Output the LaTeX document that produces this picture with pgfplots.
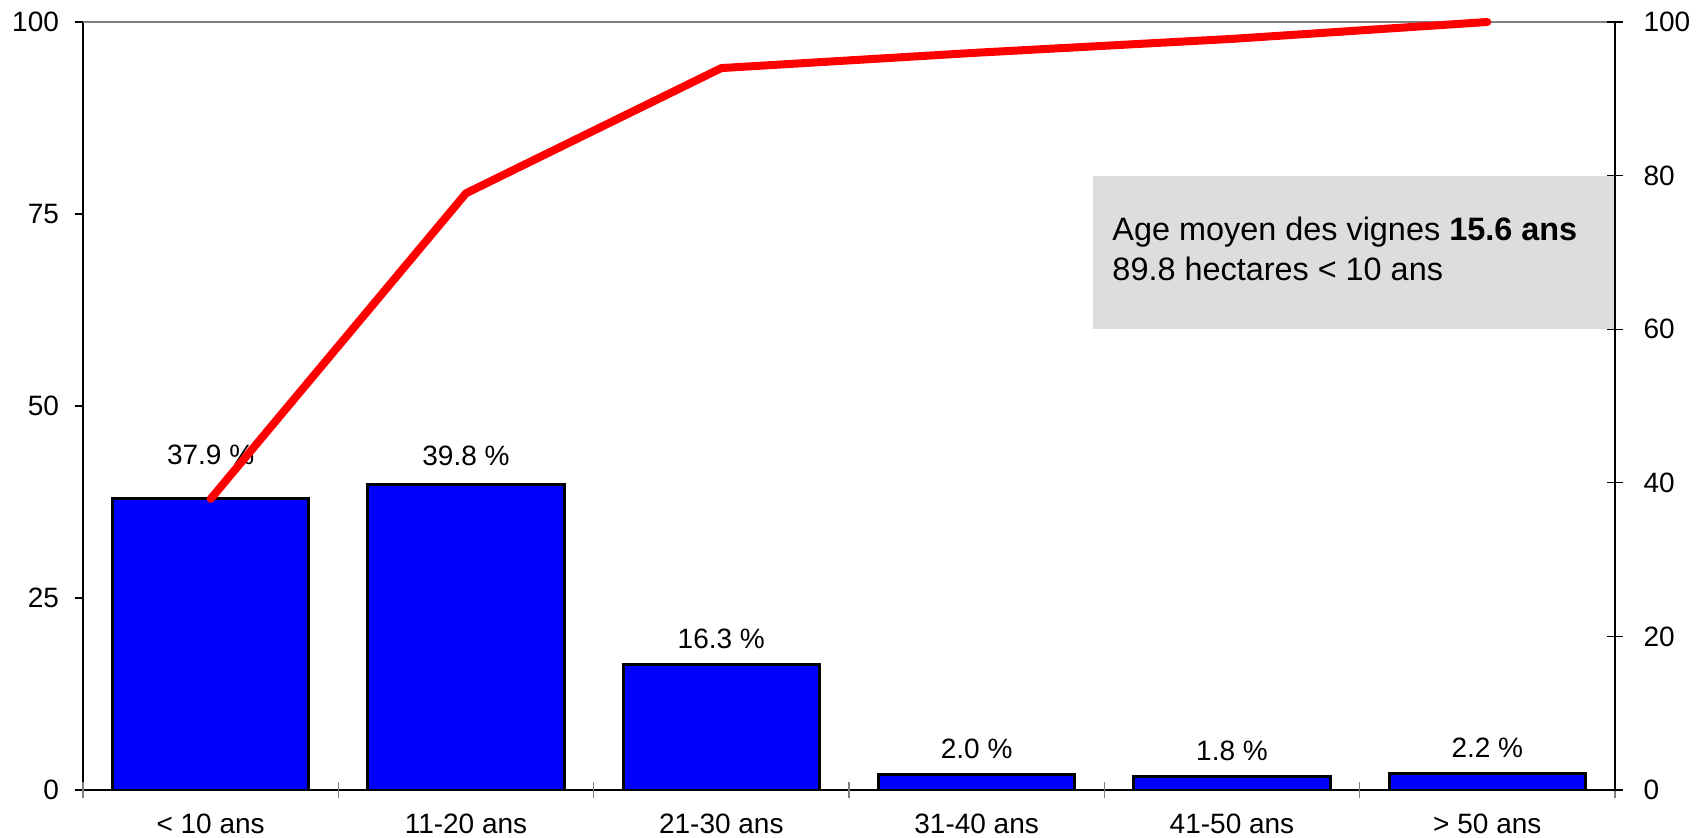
\documentclass[border=0pt]{standalone}
\usepackage{pgfplots}
\pgfplotsset{compat=1.18}
\usepackage{fontspec}
\setmainfont{Liberation Sans}
\definecolor{barblue}{RGB}{0,0,255}
\definecolor{boxgray}{RGB}{221,221,221}
\definecolor{sepgray}{RGB}{128,128,128}

% share of the vineyard by age class, lift = label height above bar (pt)
\usepackage{pgfplotstable}
\pgfplotstableread{
x  y     lift
0  37.9  17
1  39.8  9.5
2  16.3  8
3  2.0   8
4  1.8   8
5  2.2   8
}\agedata

\begin{document}
\begin{tikzpicture}
\path[use as bounding box] (-41.5pt,-23.5pt) rectangle (808pt,395pt);
% bars, left axis
\begin{axis}[
    at={(0,0)}, anchor=south west,
    scale only axis, width=766pt, height=384pt,
    xmin=-0.5, xmax=5.5, ymin=0, ymax=100,
    axis x line*=bottom, axis y line*=left,
    axis line style={line width=0.6pt, -},
    /pgf/number format/assume math mode=true,
    tick label style={font=\fontsize{14}{16}\selectfont},
    xtick={0,...,5},
    xticklabels={< 10 ans, 11-20 ans, 21-30 ans, 31-40 ans, 41-50 ans, > 50 ans},
    xticklabel style={yshift=-4.5pt},
    yticklabel style={xshift=-4.5pt},
    xtick style={draw=none},
    extra x ticks={-0.5,0.5,1.5,2.5,3.5,4.5,5.5},
    extra x tick labels={},
    extra x tick style={xtick style={draw=sepgray, line width=0.6pt}, major tick length=8pt, tick align=center},
    ytick={0,25,50,75,100},
    ytick style={draw=black, line width=0.6pt},
    tick align=outside, major tick length=4pt,
]
\fill[boxgray] (axis cs:3.456,60) rectangle (axis cs:5.5,80);
\node[anchor=base west, inner sep=0pt, font=\fontsize{16.2}{19.5}\selectfont]
    at ([xshift=9.5pt]axis cs:3.456,71.5) {Age moyen des vignes \textbf{15.6 ans}};
\node[anchor=base west, inner sep=0pt, font=\fontsize{16.2}{19.5}\selectfont]
    at ([xshift=9.5pt]axis cs:3.456,66.4) {89.8 hectares < 10 ans};
\draw[sepgray, line width=0.6pt] (axis cs:-0.5,100) -- (axis cs:5.5,100);
\addplot[ybar, bar width=0.77, fill=barblue, draw=black, line width=1.5pt,
    visualization depends on={\thisrow{lift} \as \lift},
    nodes near coords={\pgfmathprintnumber[fixed,fixed zerofill,precision=1]{\pgfplotspointmeta}~\%},
    nodes near coords style={anchor=base, yshift=\lift pt, font=\fontsize{14}{16}\selectfont, black}]
    table[x=x, y=y] {\agedata};
\end{axis}
% cumulative line, right axis
\begin{axis}[
    at={(0,0)}, anchor=south west,
    scale only axis, width=766pt, height=384pt,
    xmin=-0.5, xmax=5.5, ymin=0, ymax=100,
    axis x line=none, axis y line*=right,
    axis line style={line width=0.6pt, -},
    /pgf/number format/assume math mode=true,
    tick label style={font=\fontsize{14}{16}\selectfont},
    yticklabel style={xshift=6.75pt},
    ytick={0,20,40,60,80,100},
    ytick style={draw=black, line width=0.6pt},
    tick align=center, major tick length=8pt,
    clip=false,
]
\addplot[red, line width=4pt, line cap=round, line join=round]
    coordinates {(0,37.9) (1,77.7) (2,94.0) (3,96.0) (4,97.8) (5,100)};
\end{axis}
\end{tikzpicture}
\end{document}
